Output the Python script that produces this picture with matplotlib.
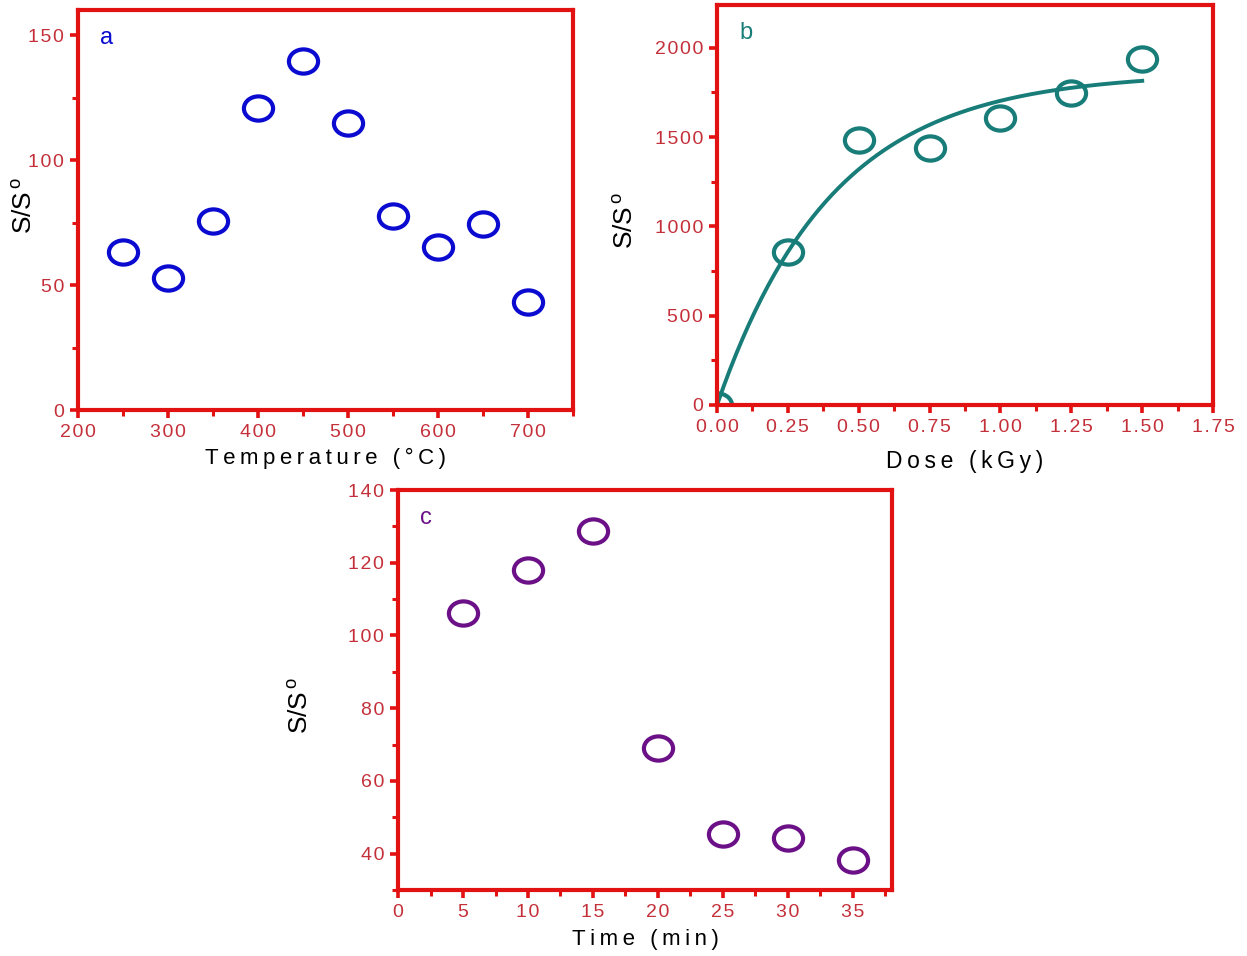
import numpy as np
import matplotlib
matplotlib.use("Agg")
import matplotlib.pyplot as plt
from matplotlib.ticker import MultipleLocator, FuncFormatter
from matplotlib.path import Path
from matplotlib.transforms import Affine2D

plt.rcParams['font.family'] = ['Liberation Sans', 'DejaVu Sans']
plt.rcParams['mathtext.fontset'] = 'custom'
plt.rcParams['mathtext.rm'] = 'Liberation Sans'
plt.rcParams['mathtext.it'] = 'Liberation Sans:italic'

# data: panel a (temperature)
temp_c = [250, 300, 350, 400, 450, 500, 550, 600, 650, 700]
ratio_a = [63.2, 52.8, 75.6, 120.8, 139.6, 114.8, 77.6, 65.2, 74.4, 43.2]

# data: panel b (dose)
dose_kgy = [0.0, 0.25, 0.5, 0.75, 1.0, 1.25, 1.5]
ratio_b = [0, 855, 1486, 1441, 1609, 1749, 1939]
# saturation fit: A*(1-exp(-D/tau))
fit_A = 1861
fit_tau = 0.405

# data: panel c (time)
time_min = [5, 10, 15, 20, 25, 30, 35]
ratio_c = [106.2, 118.0, 128.7, 69.0, 45.4, 44.3, 38.2]

SPINE = '#e31212'
TICKLBL = '#c4303a'
YLAB = r'S/S$^{\,\mathrm{o}}$'


def spaced(s, gap='\u200a'):
    # the original uses wide letter spacing
    return gap.join(s)


fig = plt.figure(figsize=(12.47, 9.56), dpi=100)


def style(ax, xmaj, xmin, ymaj, ymin, xfmt='%g'):
    for side in ['left', 'right', 'top', 'bottom']:
        ax.spines[side].set_color(SPINE)
        ax.spines[side].set_linewidth(3.0)
    ax.xaxis.set_major_locator(MultipleLocator(xmaj))
    ax.xaxis.set_minor_locator(MultipleLocator(xmin))
    ax.yaxis.set_major_locator(MultipleLocator(ymaj))
    ax.yaxis.set_minor_locator(MultipleLocator(ymin))
    ax.xaxis.set_major_formatter(FuncFormatter(lambda v, p: spaced(xfmt % v)))
    ax.yaxis.set_major_formatter(FuncFormatter(lambda v, p: spaced('%g' % v)))
    ax.tick_params(which='major', direction='out', length=6, width=2.6,
                   color=SPINE, labelcolor=TICKLBL, labelsize=14, pad=4)
    ax.tick_params(which='minor', direction='out', length=4, width=2.2,
                   color=SPINE)


oval = Path.unit_circle().transformed(Affine2D().scale(1.0, 0.83))
mk = dict(marker=oval, linestyle='none', markersize=21,
          markerfacecolor='none', markeredgewidth=3.0)

# panel a
ax1 = fig.add_axes([0.0626, 0.5711, 0.397, 0.4184])
ax1.plot(temp_c, ratio_a, color='#0a0ad0', **mk)
ax1.set_xlim(200, 750)
ax1.set_ylim(0, 160)
style(ax1, 100, 50, 50, 25)
ax1.set_xlabel(spaced('Temperature (°C)', '\u2009'), fontsize=16)
ax1.xaxis.set_label_coords(0.5, -0.095)
ax1.set_ylabel(YLAB, fontsize=19)
ax1.yaxis.set_label_coords(-0.083, 0.51)
ax1.text(0.045, 0.915, 'a', transform=ax1.transAxes, color='#0a0ad0',
         fontsize=17)

# panel b
ax2 = fig.add_axes([0.575, 0.5764, 0.3978, 0.4184])
dd = np.linspace(0, max(dose_kgy), 200)
ax2.plot(dd, fit_A * (1 - np.exp(-dd / fit_tau)), color='#187c78', lw=2.8)
ax2.plot(dose_kgy, ratio_b, color='#187c78', **mk)
ax2.set_xlim(0, 1.75)
ax2.set_ylim(0, 2240)
style(ax2, 0.25, 0.125, 500, 250, xfmt='%.2f')
ax2.set_xlabel(spaced('Dose (kGy)', '\u2009'), fontsize=16.5)
ax2.xaxis.set_label_coords(0.5, -0.112)
ax2.set_ylabel(YLAB, fontsize=19)
ax2.yaxis.set_label_coords(-0.16, 0.46)
ax2.text(0.045, 0.915, 'b', transform=ax2.transAxes, color='#187c78',
         fontsize=17)

# panel c
ax3 = fig.add_axes([0.3192, 0.069, 0.396, 0.4184])
ax3.plot(time_min, ratio_c, color='#6c1088', **mk)
ax3.set_xlim(0, 38)
ax3.set_ylim(30, 140)
style(ax3, 5, 2.5, 20, 10)
ax3.set_xlabel(spaced('Time (min)', '\u2009'), fontsize=16)
ax3.xaxis.set_label_coords(0.5, -0.097)
ax3.set_ylabel(YLAB, fontsize=19)
ax3.yaxis.set_label_coords(-0.172, 0.46)
ax3.text(0.045, 0.915, 'c', transform=ax3.transAxes, color='#6c1088',
         fontsize=17)

fig.savefig('out.png', dpi=100)
